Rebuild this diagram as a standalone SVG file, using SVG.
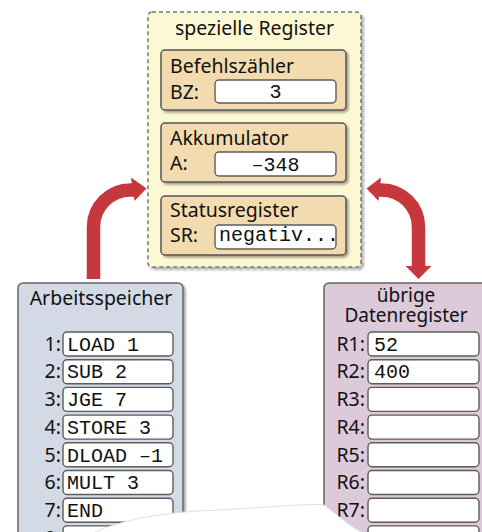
<svg xmlns="http://www.w3.org/2000/svg" width="482" height="532" viewBox="0 0 482 532">
  <defs>
    <filter id="shadow" x="-10%" y="-10%" width="130%" height="130%">
      <feDropShadow dx="2" dy="2" stdDeviation="1" flood-color="#000" flood-opacity="0.35"/>
    </filter>
    <filter id="softShadow" x="-10%" y="-10%" width="130%" height="130%">
      <feDropShadow dx="2.5" dy="2.5" stdDeviation="1.2" flood-color="#000" flood-opacity="0.3"/>
    </filter>
  </defs>
  <style>
    .lbl { font-family: "Noto Sans", "Open Sans", sans-serif; font-size: 19.5px; fill: #111; }
    .mid { text-anchor: middle; }
    .end { text-anchor: end; }
    .mono { font-family: "Liberation Mono", "DejaVu Sans Mono", monospace; font-size: 20px; fill: #111; }
    .cell { fill: #fff; stroke: #5c5c5c; stroke-width: 1.4; }
    .reg { fill: #f3dbb0; stroke: #555; stroke-width: 1.5; filter: url(#shadow); }
    .arrow { fill: none; stroke: #c6383d; stroke-width: 13.5; }
    .head { fill: #c6383d; }
  </style>

  <rect width="482" height="532" fill="#fff"/>

  <!-- special registers -->
  <g id="spezielle-register">
    <rect x="148" y="12" width="213" height="255" rx="4" fill="#fdf8d4" stroke="#777" stroke-width="1.5" stroke-dasharray="4 3" filter="url(#softShadow)"/>
    <text class="lbl mid" x="254.5" y="34.5">spezielle Register</text>
  </g>

  <g id="befehlszaehler">
    <rect class="reg" x="161" y="50" width="185" height="60" rx="4"/>
    <text class="lbl" x="170" y="72.5">Befehlszähler</text>
    <text class="lbl" x="170" y="99">BZ:</text>
    <rect class="cell" x="215" y="80" width="121" height="23" rx="4"/>
    <text class="mono mid" x="275.5" y="97.5">3</text>
  </g>

  <g id="akkumulator">
    <rect class="reg" x="161" y="123" width="185" height="59" rx="4"/>
    <text class="lbl" x="170" y="145">Akkumulator</text>
    <text class="lbl" x="170" y="170">A:</text>
    <rect class="cell" x="215" y="152" width="121" height="24" rx="4"/>
    <text class="mono mid" x="275.5" y="171">–348</text>
  </g>

  <g id="statusregister">
    <rect class="reg" x="161" y="196" width="185" height="59" rx="4"/>
    <text class="lbl" x="170" y="216.5">Statusregister</text>
    <text class="lbl" x="170" y="241.5">SR:</text>
    <rect class="cell" x="215" y="225" width="121" height="24" rx="4"/>
    <text class="mono" x="219" y="241">negativ...</text>
  </g>

  <!-- main memory -->
  <g id="arbeitsspeicher">
    <rect x="18" y="283" width="165" height="280" rx="5" fill="#d3dae6" stroke="#666" stroke-width="1.5" filter="url(#shadow)"/>
    <text class="lbl mid" x="101" y="305">Arbeitsspeicher</text>
    <g>
      <text class="lbl end" x="61" y="350.7">1:</text>
      <rect class="cell" x="63" y="332" width="110" height="24" rx="4"/>
      <text class="mono" x="67" y="350.7">LOAD 1</text>

      <text class="lbl end" x="61" y="378.4">2:</text>
      <rect class="cell" x="63" y="359.7" width="110" height="24" rx="4"/>
      <text class="mono" x="67" y="378.4">SUB 2</text>

      <text class="lbl end" x="61" y="406.1">3:</text>
      <rect class="cell" x="63" y="387.4" width="110" height="24" rx="4"/>
      <text class="mono" x="67" y="406.1">JGE 7</text>

      <text class="lbl end" x="61" y="433.8">4:</text>
      <rect class="cell" x="63" y="415.1" width="110" height="24" rx="4"/>
      <text class="mono" x="67" y="433.8">STORE 3</text>

      <text class="lbl end" x="61" y="461.5">5:</text>
      <rect class="cell" x="63" y="442.8" width="110" height="24" rx="4"/>
      <text class="mono" x="67" y="461.5">DLOAD –1</text>

      <text class="lbl end" x="61" y="489.2">6:</text>
      <rect class="cell" x="63" y="470.5" width="110" height="24" rx="4"/>
      <text class="mono" x="67" y="489.2">MULT 3</text>

      <text class="lbl end" x="61" y="516.9">7:</text>
      <rect class="cell" x="63" y="498.2" width="110" height="24" rx="4"/>
      <text class="mono" x="67" y="516.9">END</text>

      <text class="lbl end" x="61" y="544.6">8:</text>
      <rect class="cell" x="63" y="525.9" width="110" height="24" rx="4"/>
    </g>
  </g>

  <!-- other data registers -->
  <g id="datenregister">
    <rect x="324" y="283" width="175" height="280" rx="5" fill="#dccada" stroke="#666" stroke-width="1.5" filter="url(#shadow)"/>
    <text class="lbl mid" x="406" y="302" style="font-size:19px">übrige</text>
    <text class="lbl mid" x="406" y="322" style="font-size:19px">Datenregister</text>
    <g>
      <text class="lbl end" x="365" y="350.7">R1:</text>
      <rect class="cell" x="368" y="332" width="111" height="24" rx="4"/>
      <text class="mono" x="374" y="350.7">52</text>

      <text class="lbl end" x="365" y="378.4">R2:</text>
      <rect class="cell" x="368" y="359.7" width="111" height="24" rx="4"/>
      <text class="mono" x="374" y="378.4">400</text>

      <text class="lbl end" x="365" y="406.1">R3:</text>
      <rect class="cell" x="368" y="387.4" width="111" height="24" rx="4"/>

      <text class="lbl end" x="365" y="433.8">R4:</text>
      <rect class="cell" x="368" y="415.1" width="111" height="24" rx="4"/>

      <text class="lbl end" x="365" y="461.5">R5:</text>
      <rect class="cell" x="368" y="442.8" width="111" height="24" rx="4"/>

      <text class="lbl end" x="365" y="489.2">R6:</text>
      <rect class="cell" x="368" y="470.5" width="111" height="24" rx="4"/>

      <text class="lbl end" x="365" y="516.9">R7:</text>
      <rect class="cell" x="368" y="498.2" width="111" height="24" rx="4"/>

      <rect class="cell" x="368" y="525.9" width="111" height="24" rx="4"/>
    </g>
  </g>

  <!-- data flow arrows -->
  <g id="connectors">
    <path class="arrow" d="M93.5 279 V227 A37 37 0 0 1 130.5 190 H135"/>
    <polygon class="head" points="131,177.5 146.5,188.5 134.5,201"/>
    <path class="arrow" d="M418.5 267 V227 A37 37 0 0 0 381.5 190 H378"/>
    <polygon class="head" points="381,177.5 366.5,188.5 378.5,201"/>
    <polygon class="head" points="405.5,266 431.5,266 418.5,279"/>
  </g>

  <!-- torn-off lower edge -->
  <path d="M78 540 C115 520 160 513 200 511 C260 508 310 503 324 505 C336 513 348 527 376 540 Z" fill="#fff" stroke="#e2e2e2" stroke-width="1"/>
</svg>
